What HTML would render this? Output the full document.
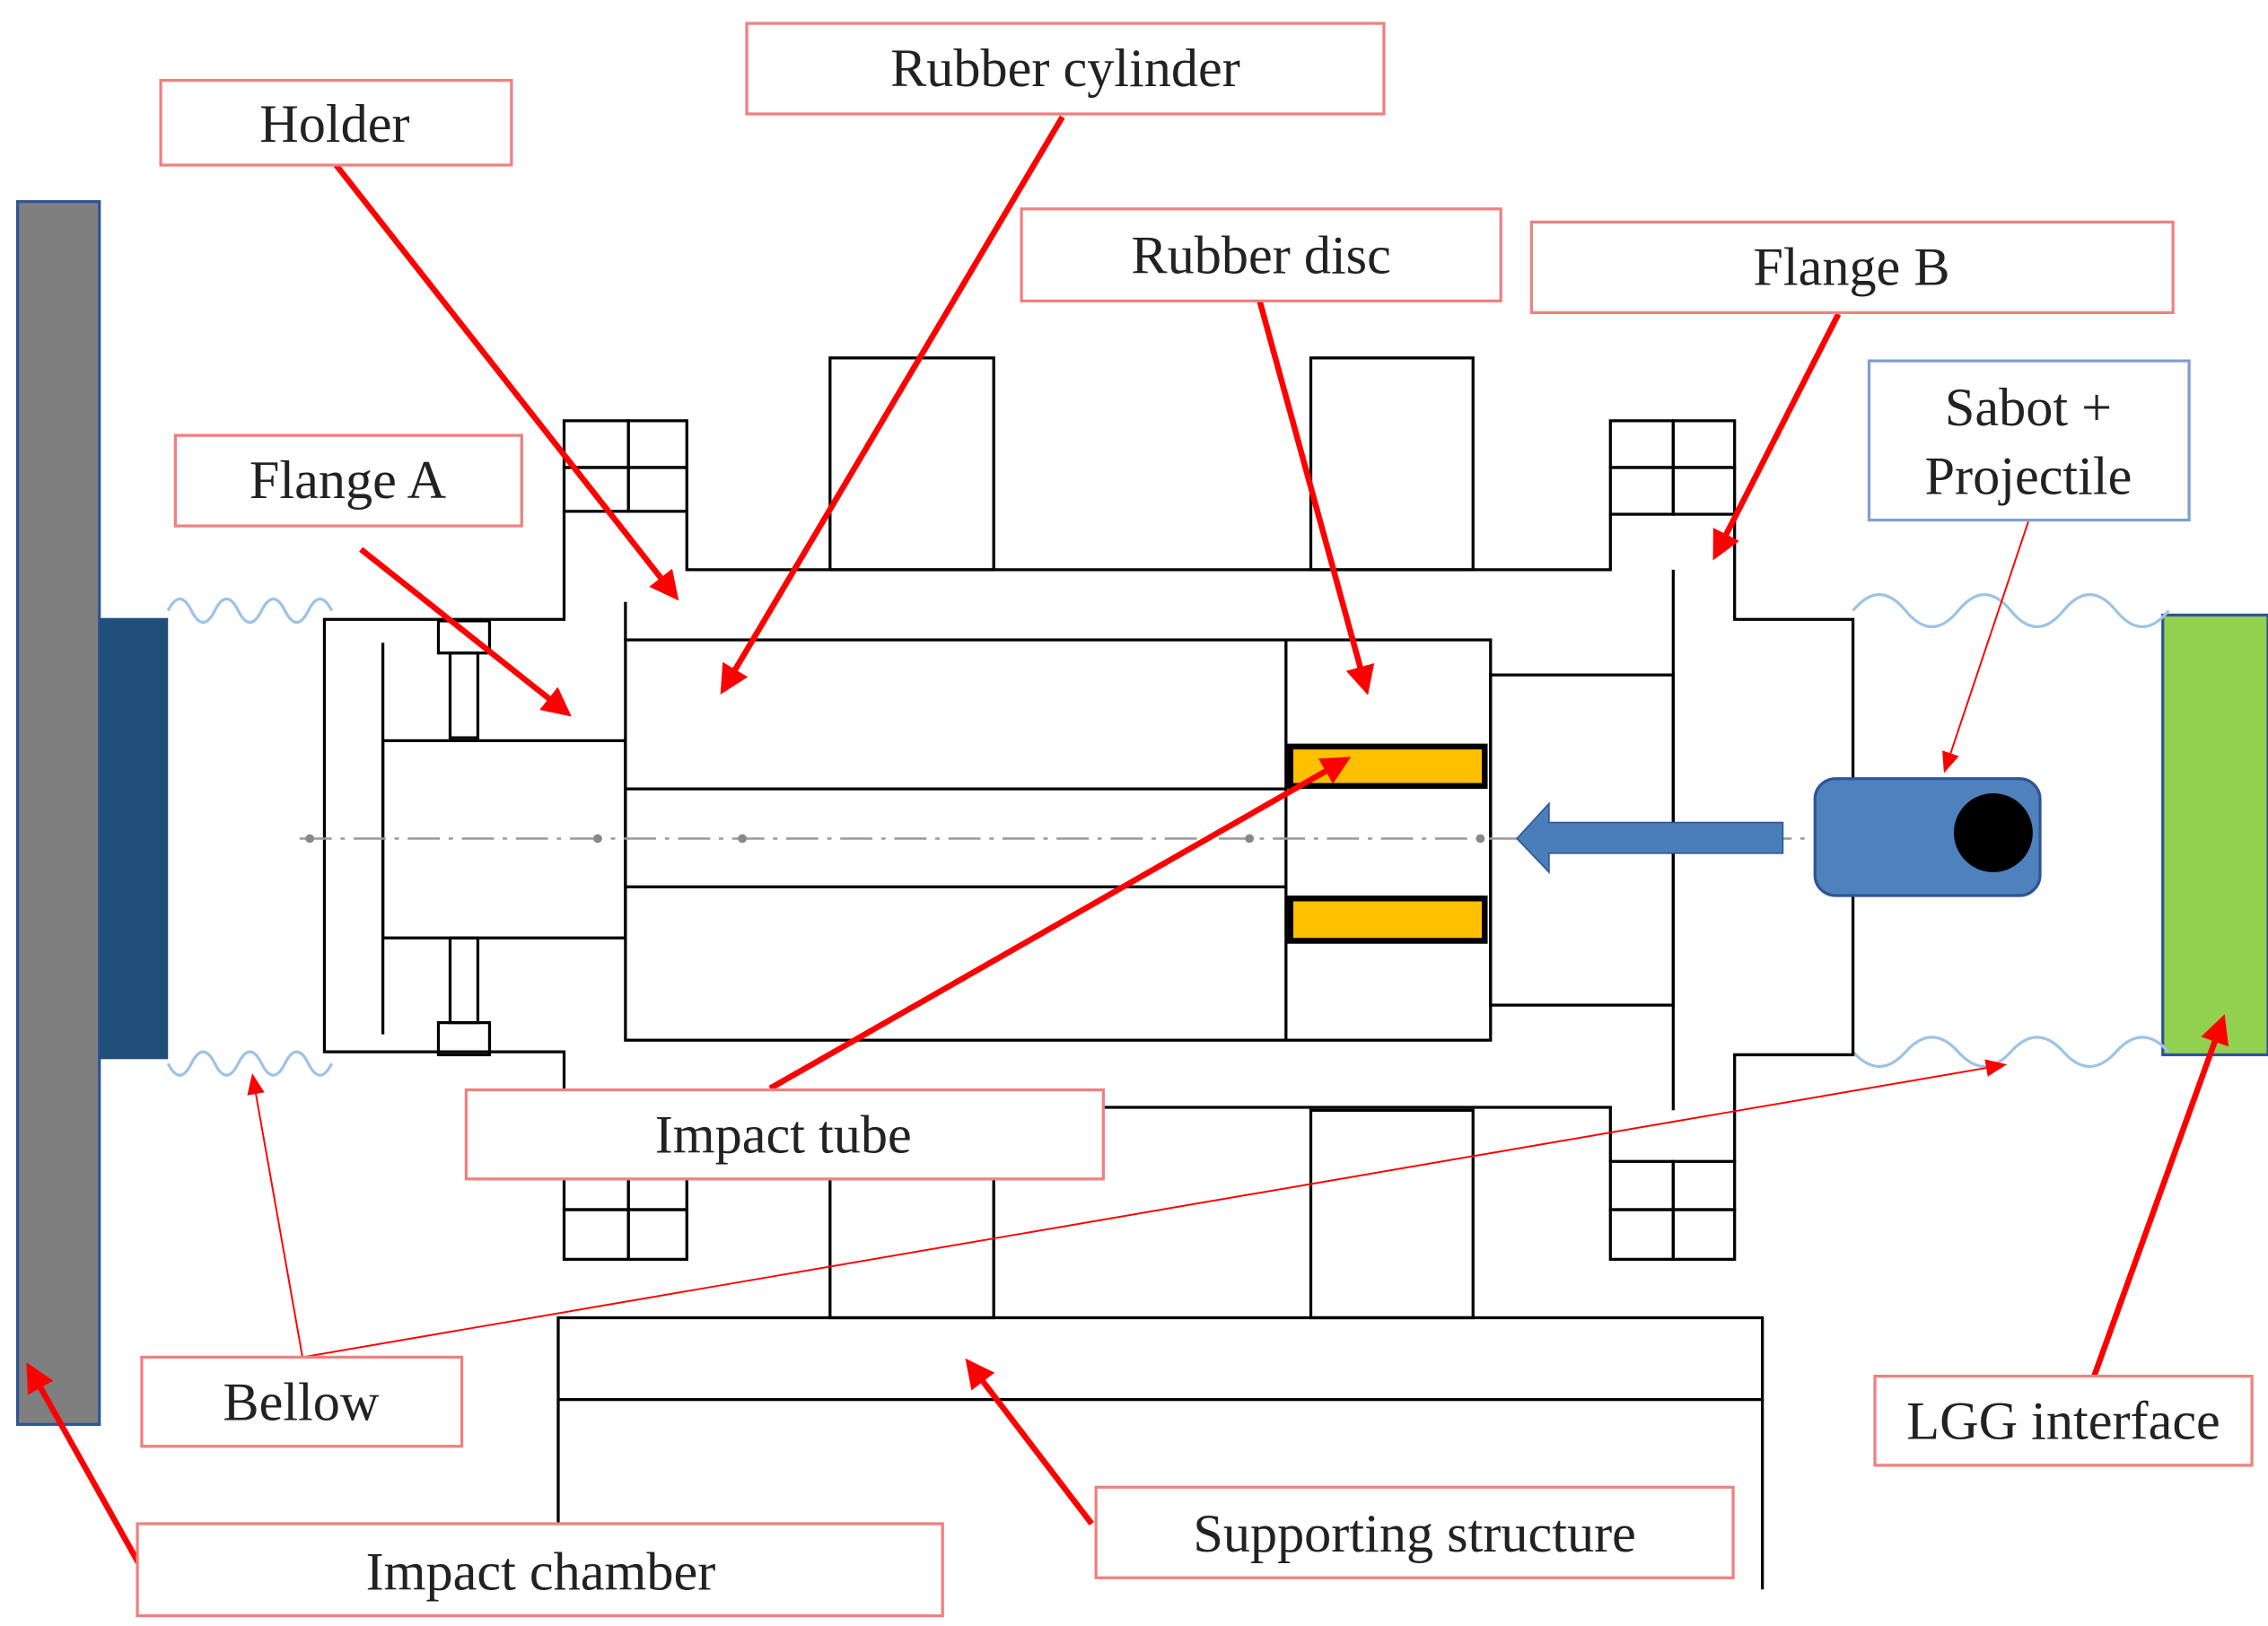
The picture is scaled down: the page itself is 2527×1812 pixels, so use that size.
<!DOCTYPE html>
<html><head><style>html,body{margin:0;padding:0;background:#fff}svg{display:block}</style></head>
<body>
<svg width="2527" height="1812" viewBox="0 0 1552 1113" preserveAspectRatio="none" xmlns="http://www.w3.org/2000/svg" font-family="Liberation Serif, serif">
<defs>
<marker id="ah" markerWidth="5" markerHeight="5" refX="4" refY="2.5" orient="auto" markerUnits="strokeWidth"><path d="M0,0 L5,2.5 L0,5 z" fill="#f00"/></marker>
<marker id="ah2" markerWidth="12" markerHeight="10" refX="10" refY="5" orient="auto" markerUnits="strokeWidth"><path d="M0,0 L12,5 L0,10 z" fill="#f00"/></marker>
</defs>
<rect x="12" y="138" width="56" height="837" fill="#7f7f7f" stroke="#2f5597" stroke-width="2"/>
<rect x="68" y="423" width="47" height="302" fill="#1f4e79"/>
<rect x="1480" y="421" width="72" height="301" fill="#92d050" stroke="#2f5597" stroke-width="2"/>
<g fill="none" stroke="#9dc3e6" stroke-width="2">
<path d="M115,418 q8,-16 16,0 t16,0 t16,0 t16,0 t16,0 t16,0 t16,0"/>
<path d="M115,728 q8,16 16,0 t16,0 t16,0 t16,0 t16,0 t16,0 t16,0"/>
<path d="M1268,418 q18,-22 36,0 t36,0 t36,0 t36,0 t36,0 t36,0"/>
<path d="M1268,720 q18,20 36,0 t36,0 t36,0 t36,0 t36,0 t36,0"/>
</g>
<g fill="none" stroke="#000" stroke-width="2">
<rect x="386" y="288" width="44" height="32"/><rect x="430" y="288" width="40" height="32"/>
<rect x="386" y="320" width="44" height="30"/><rect x="430" y="320" width="40" height="30"/>
<rect x="1102" y="288" width="43" height="32"/><rect x="1145" y="288" width="42" height="32"/>
<rect x="1102" y="320" width="43" height="32"/><rect x="1145" y="320" width="42" height="32"/>
<rect x="386" y="795" width="44" height="33"/><rect x="430" y="795" width="40" height="33"/>
<rect x="386" y="828" width="44" height="34"/><rect x="430" y="828" width="40" height="34"/>
<rect x="1102" y="795" width="43" height="33"/><rect x="1145" y="795" width="42" height="33"/>
<rect x="1102" y="828" width="43" height="34"/><rect x="1145" y="828" width="42" height="34"/>
<rect x="568" y="245" width="112" height="145"/><rect x="897" y="245" width="111" height="145"/>
<path d="M470,350 V390 H1102 V352"/>
<path d="M386,350 V424 H222 V720 H386 V795"/>
<path d="M1187,352 V424 H1268 V722 H1187 V795"/>
<path d="M470,795 V758 H1102 V795"/>
<rect x="428" y="438" width="592" height="274"/>
<path d="M428,540 H880 M428,607 H880 M880,438 V712"/>
<rect x="1020" y="462" width="125" height="226"/>
<path d="M1145,390 V760"/>
<path d="M262,440 V708"/>
<rect x="262" y="507" width="166" height="135"/>
<path d="M428,412 V438"/>
<rect x="300" y="425" width="35" height="22"/><rect x="308" y="447" width="19" height="58"/>
<rect x="300" y="700" width="35" height="22"/><rect x="308" y="642" width="19" height="58"/>
<path d="M568,807 V902 H680 V807"/><rect x="897" y="760" width="111" height="142"/>
<rect x="382" y="902" width="824" height="56"/>
<path d="M382,958 V1043 M1206,958 V1088"/>
</g>
<rect x="883" y="511" width="133" height="27" fill="#ffc000" stroke="#000" stroke-width="4"/>
<rect x="883" y="615" width="133" height="29" fill="#ffc000" stroke="#000" stroke-width="4"/>
<line x1="205" y1="574" x2="1240" y2="574" stroke="#999" stroke-width="1.5" stroke-dasharray="22,6,3,6"/>
<g fill="#888"><circle cx="212" cy="574" r="3"/><circle cx="409" cy="574" r="3"/><circle cx="508" cy="574" r="3"/><circle cx="855" cy="574" r="3"/><circle cx="1013" cy="574" r="3"/></g>
<path d="M1220,563 H1060 V550 L1038,574 L1060,597 V584 H1220 z" fill="#4a7ebb" stroke="#2f5597" stroke-width="1"/>
<rect x="1242" y="533" width="154" height="80" rx="14" fill="#4f81bd" stroke="#2f5597" stroke-width="2"/>
<circle cx="1364" cy="570" r="27" fill="#000"/>
<g stroke="#f00" stroke-width="4" fill="none" marker-end="url(#ah)">
<line x1="230" y1="113" x2="462" y2="408"/>
<line x1="727" y1="80" x2="495" y2="472"/>
<line x1="247" y1="376" x2="388" y2="488"/>
<line x1="862" y1="206" x2="935" y2="472"/>
<line x1="1258" y1="215" x2="1174" y2="380"/>
<line x1="527" y1="745" x2="921" y2="520"/>
<line x1="747" y1="1043" x2="663" y2="933"/>
<line x1="96" y1="1072" x2="20" y2="936"/>
<line x1="1433" y1="942" x2="1521" y2="698"/>
</g>
<g stroke="#f00" stroke-width="1.2" fill="none" marker-end="url(#ah2)">
<line x1="207" y1="929" x2="173" y2="737"/>
<line x1="207" y1="929" x2="1371" y2="729"/>
<line x1="1388" y1="357" x2="1331" y2="527"/>
</g>
<g fill="#fff" stroke="#f08080" stroke-width="2">
<rect x="110" y="55" width="240" height="58"/>
<rect x="511" y="16" width="436" height="62"/>
<rect x="699" y="143" width="328" height="63"/>
<rect x="1048" y="152" width="439" height="62"/>
<rect x="120" y="298" width="237" height="62"/>
<rect x="319" y="746" width="436" height="61"/>
<rect x="97" y="929" width="219" height="61"/>
<rect x="1283" y="942" width="258" height="61"/>
<rect x="750" y="1018" width="436" height="62"/>
<rect x="94" y="1043" width="551" height="63"/>
</g>
<rect x="1279" y="247" width="219" height="109" fill="#fff" stroke="#7f9fcf" stroke-width="2"/>
<g font-size="37" fill="#222" text-anchor="middle">
<text x="229" y="97">Holder</text>
<text x="729" y="59">Rubber cylinder</text>
<text x="863" y="187">Rubber disc</text>
<text x="1267" y="195">Flange B</text>
<text x="238" y="341">Flange A</text>
<text x="536" y="789">Impact tube</text>
<text x="206" y="972">Bellow</text>
<text x="1412" y="985">LGG interface</text>
<text x="968" y="1062">Supporting structure</text>
<text x="370" y="1088">Impact chamber</text>
<text x="1388" y="291">Sabot +</text>
<text x="1388" y="338">Projectile</text>
</g>
</svg>
</body></html>
